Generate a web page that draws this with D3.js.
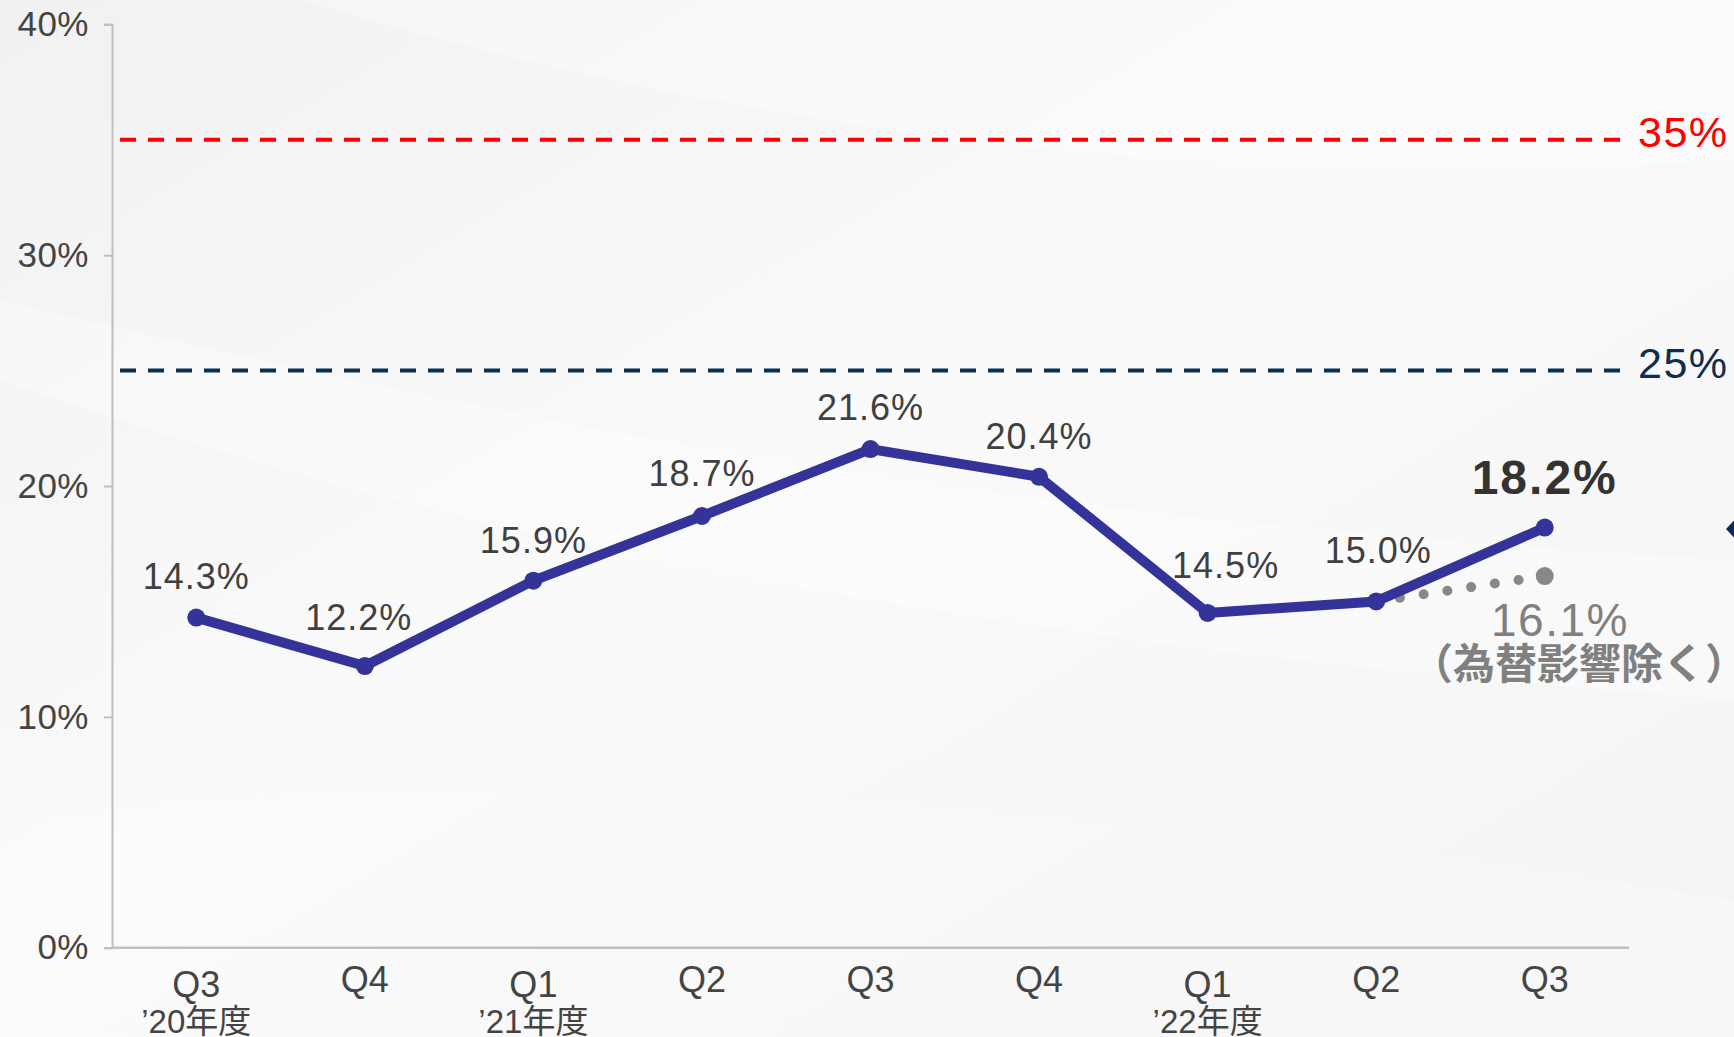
<!DOCTYPE html>
<html>
<head>
<meta charset="utf-8">
<script src="https://cdn.jsdelivr.net/npm/d3@7"></script>
<style>
	html, body { margin: 0; padding: 0; background: #f6f6f6; }
	svg { display: block; }
	text { font-family: "Liberation Sans", "Noto Sans CJK JP", sans-serif; }
</style>
</head>
<body>
<svg id="chart" width="1734" height="1037"></svg>
<script>
// 四半期ラベル
var quarters = ["Q3", "Q4", "Q1", "Q2", "Q3", "Q4", "Q1", "Q2", "Q3"];
var fiscalYears = ["’20年度", "", "’21年度", "", "", "", "’22年度", "", ""];
// 値 (%)
var ratio = [14.3, 12.2, 15.9, 18.7, 21.6, 20.4, 14.5, 15.0, 18.2];
// 為替影響除く
var exFxFrom = 15.0, exFxTo = 16.1;
var targets = [35, 25];
var yTicks = [0, 10, 20, 30, 40];

// label nudges (px)
var labelDx = [0, -6, 0, 0, 0, 0, 18, 2, 0];
var labelDy = [-29, -36, -28, -30, -29, -28, -35, -38, -34];

var svg = d3.select("#chart"),
	plotLeft = 112,
	plotRight = 1629,
	plotTop = 24.3,
	plotBottom = 947.7;

// 背景
var defs = svg.append("defs");
var grad = defs.append("linearGradient").attr("id", "bg").attr("x1", 0).attr("y1", 0).attr("x2", 1).attr("y2", 1);
grad.append("stop").attr("offset", "0%").attr("stop-color", "#f1f1f1");
grad.append("stop").attr("offset", "45%").attr("stop-color", "#fafafa");
grad.append("stop").attr("offset", "100%").attr("stop-color", "#f4f4f4");
svg.append("rect").attr("width", 1734).attr("height", 1037).attr("fill", "url(#bg)");
var swoosh = svg.append("g").attr("fill", "#ffffff");
swoosh.append("path").attr("d", "M0,380 C400,520 900,640 1734,700 L1734,560 C1000,520 500,420 0,300 Z").attr("opacity", 0.3);
swoosh.append("path").attr("d", "M300,0 C700,120 1200,200 1734,160 L1734,0 Z").attr("opacity", 0.3);
swoosh.append("path").attr("d", "M0,820 C500,760 1100,800 1734,900 L1734,1037 L0,1037 Z").attr("opacity", 0.2);

var x = d3.scalePoint()
	.domain(d3.range(quarters.length))
	.range([plotLeft, plotRight])
	.padding(0.5);

var y = d3.scaleLinear()
	.domain([0, 40])
	.range([plotBottom, plotTop]);

// y軸
var yAxis = svg.append("g")
	.attr("transform", "translate(" + plotLeft + ",0)")
	.call(d3.axisLeft(y).tickValues(yTicks).tickSize(8).tickPadding(15)
		.tickFormat(function(d) { return d + "%"; }));
yAxis.selectAll("path, line").attr("stroke", "#bfbfbf").attr("stroke-width", 2);
yAxis.selectAll("text").attr("fill", "#444").style("font-size", "35px").style("letter-spacing", "0.5px");

// x軸
svg.append("line")
	.attr("x1", plotLeft).attr("x2", plotRight)
	.attr("y1", plotBottom).attr("y2", plotBottom)
	.attr("stroke", "#bfbfbf").attr("stroke-width", 2.5);

var xl = svg.append("g").selectAll("g")
	.data(quarters)
	.enter().append("g")
	.attr("transform", function(d, i) { return "translate(" + x(i) + ",0)"; });
xl.append("text")
	.attr("text-anchor", "middle")
	.attr("y", function(d, i) { return fiscalYears[i] ? 997 : 992; })
	.attr("fill", "#444")
	.style("font-size", "36px")
	.text(function(d) { return d; });
xl.append("text")
	.attr("text-anchor", "middle")
	.attr("y", 1033)
	.attr("fill", "#444")
	.style("font-size", "33px")
	.text(function(d, i) { return fiscalYears[i]; });

// 目標ライン
var tColor = ["#ff0000", "#0e2d4f"];
targets.forEach(function(t, i) {
	svg.append("line")
		.attr("x1", 120).attr("x2", 1620)
		.attr("y1", y(t)).attr("y2", y(t))
		.attr("stroke", tColor[i])
		.attr("stroke-width", 4)
		.attr("stroke-dasharray", "16 12");
	svg.append("text")
		.attr("x", 1638)
		.attr("y", y(t) + 7)
		.attr("fill", tColor[i])
		.style("font-size", "43px")
		.style("letter-spacing", "1.5px")
		.text(t + "%");
});

// 為替影響除く (点線)
svg.append("line")
	.attr("x1", x(7)).attr("y1", y(exFxFrom))
	.attr("x2", x(8)).attr("y2", y(exFxTo))
	.attr("stroke", "#888")
	.attr("stroke-width", 10)
	.attr("stroke-linecap", "round")
	.attr("stroke-dasharray", "0 24");
svg.append("circle")
	.attr("cx", x(8)).attr("cy", y(exFxTo)).attr("r", 9)
	.attr("fill", "#888");

// 折れ線
var line = d3.line()
	.x(function(d, i) { return x(i); })
	.y(function(d) { return y(d); });

svg.append("path")
	.datum(ratio)
	.attr("d", line)
	.attr("fill", "none")
	.attr("stroke", "#333399")
	.attr("stroke-width", 10)
	.attr("stroke-linejoin", "round");

svg.selectAll(".dot")
	.data(ratio)
	.enter().append("circle")
	.attr("class", "dot")
	.attr("cx", function(d, i) { return x(i); })
	.attr("cy", function(d) { return y(d); })
	.attr("r", 9)
	.attr("fill", "#333399");

var last = ratio.length - 1;
svg.selectAll(".lbl")
	.data(ratio)
	.enter().append("text")
	.attr("class", "lbl")
	.attr("text-anchor", "middle")
	.attr("x", function(d, i) { return x(i) + labelDx[i]; })
	.attr("y", function(d, i) { return y(d) + labelDy[i]; })
	.attr("fill", function(d, i) { return i == last ? "#333" : "#404040"; })
	.style("font-size", function(d, i) { return i == last ? "48px" : "36px"; })
	.style("letter-spacing", function(d, i) { return i == last ? "2px" : "1px"; })
	.style("font-weight", function(d, i) { return i == last ? "bold" : "normal"; })
	.text(function(d) { return d.toFixed(1) + "%"; });

svg.append("text")
	.attr("text-anchor", "middle")
	.attr("x", 1560).attr("y", 636)
	.attr("fill", "#808080")
	.style("font-size", "46px")
	.style("letter-spacing", "1.5px")
	.text(exFxTo.toFixed(1) + "%");
svg.append("text")
	.attr("text-anchor", "middle")
	.attr("x", 1579).attr("y", 679)
	.attr("fill", "#808080")
	.style("font-size", "42px")
	.style("font-weight", "bold")
	.text("（為替影響除く）");

// 右端のマーク
svg.append("path")
	.attr("d", "M1726,529 L1740,514 L1754,529 L1740,544 Z")
	.attr("fill", "#0d2a5c");
</script>
</body>
</html>
